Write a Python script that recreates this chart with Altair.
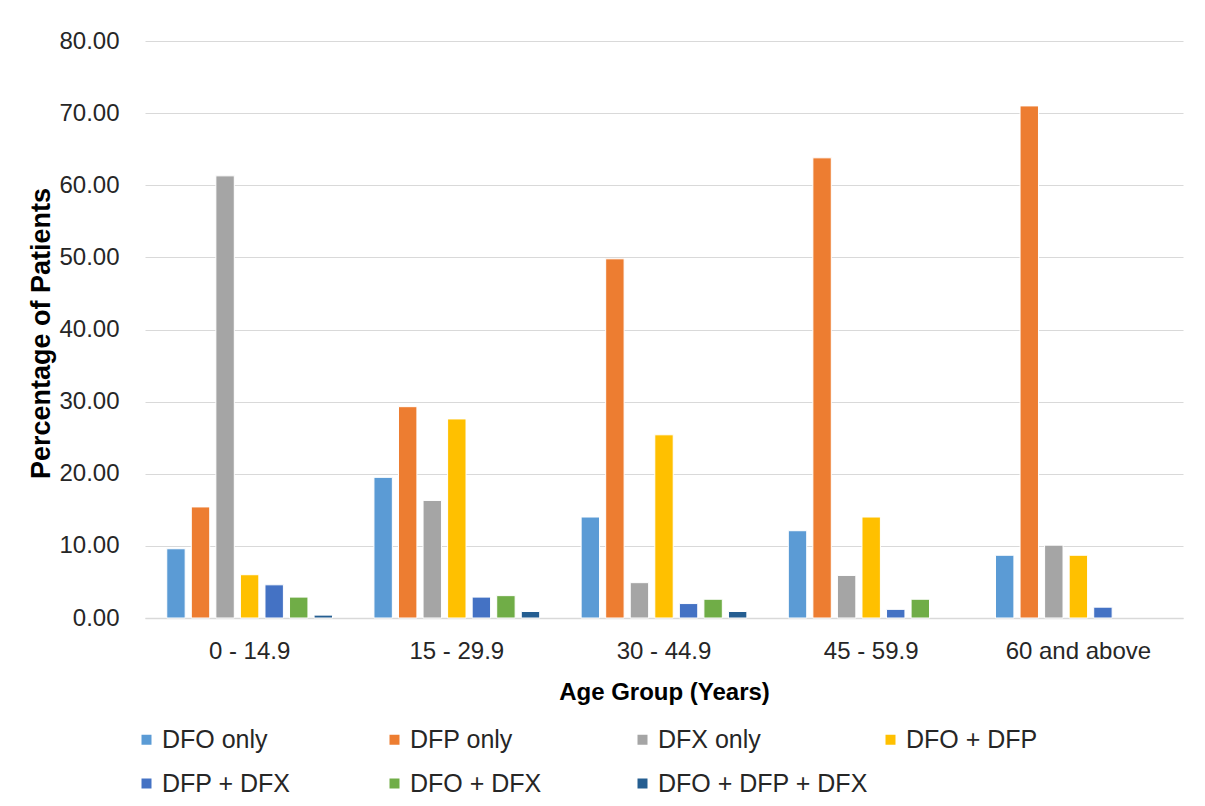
import altair as alt
import pandas as pd

groups = ["0 - 14.9", "15 - 29.9", "30 - 44.9", "45 - 59.9", "60 and above"]
series = ["DFO only", "DFP only", "DFX only", "DFO + DFP", "DFP + DFX", "DFO + DFX", "DFO + DFP + DFX"]
colors = ["#5B9BD5", "#ED7D31", "#A5A5A5", "#FFC000", "#4472C4", "#70AD47", "#255E91"]

dfo_only = [9.6, 19.5, 14.0, 12.1, 8.7]
dfp_only = [15.4, 29.3, 49.8, 63.8, 71.0]
dfx_only = [61.3, 16.3, 4.9, 5.9, 10.1]
dfo_dfp = [6.0, 27.6, 25.4, 14.0, 8.7]
dfp_dfx = [4.6, 2.9, 2.0, 1.2, 1.5]
dfo_dfx = [2.9, 3.1, 2.6, 2.6, 0.0]
dfo_dfp_dfx = [0.4, 0.9, 0.9, 0.0, 0.0]

vals = [dfo_only, dfp_only, dfx_only, dfo_dfp, dfp_dfx, dfo_dfx, dfo_dfp_dfx]
rows = []
for s, v in zip(series, vals):
    for g, x in zip(groups, v):
        rows.append({"group": g, "series": s, "value": x})
df = pd.DataFrame(rows)

FONT = "Liberation Sans"

chart = alt.Chart(df).mark_bar(stroke="white", strokeWidth=1).encode(
    x=alt.X("group:N", sort=groups,
            scale=alt.Scale(paddingInner=0.2, paddingOuter=0.105),
            axis=alt.Axis(title="Age Group (Years)", labelAngle=0, labelFontSize=24,
                          labelColor="#262626", labelPadding=21, titleFontSize=24,
                          titleFontWeight="bold", titleColor="#000000", titlePadding=17,
                          ticks=False, domainColor="#d9d9d9", domainWidth=1.5)),
    xOffset=alt.XOffset("series:N", sort=series, scale=alt.Scale(paddingInner=0.25)),
    y=alt.Y("value:Q", scale=alt.Scale(domain=[0, 80]),
            axis=alt.Axis(title="Percentage of Patients", format=".2f",
                          values=[0, 10, 20, 30, 40, 50, 60, 70, 80], labelOverlap=False,
                          labelFontSize=24, labelColor="#262626", labelPadding=26,
                          titleFontSize=27, titleFontWeight="bold", titleColor="#000000",
                          titleX=-104, titleY=292, titleAngle=-90, titleBaseline="middle",
                          ticks=False, domain=False, gridColor="#d9d9d9", gridWidth=1.2)),
    color=alt.Color("series:N", sort=series,
                    scale=alt.Scale(domain=series, range=colors),
                    legend=alt.Legend(title=None, orient="none", legendX=-11, legendY=686,
                                      direction="horizontal", labelLimit=400,
                                      columns=4, gridAlign="all", columnPadding=10,
                                      rowPadding=18, symbolType="square", symbolSize=100,
                                      symbolStrokeWidth=0, labelFontSize=25,
                                      labelColor="#262626", labelOffset=3)),
).transform_filter("datum.value > 0").properties(
    width=1038, height=577,
    autosize=alt.AutoSizeParams(type="none"),
    padding={"left": 137, "top": 33, "right": 10, "bottom": 180},
).configure(font=FONT).configure_view(stroke=None)

chart.save("out.html", embed_options={"renderer": "svg", "actions": False})
